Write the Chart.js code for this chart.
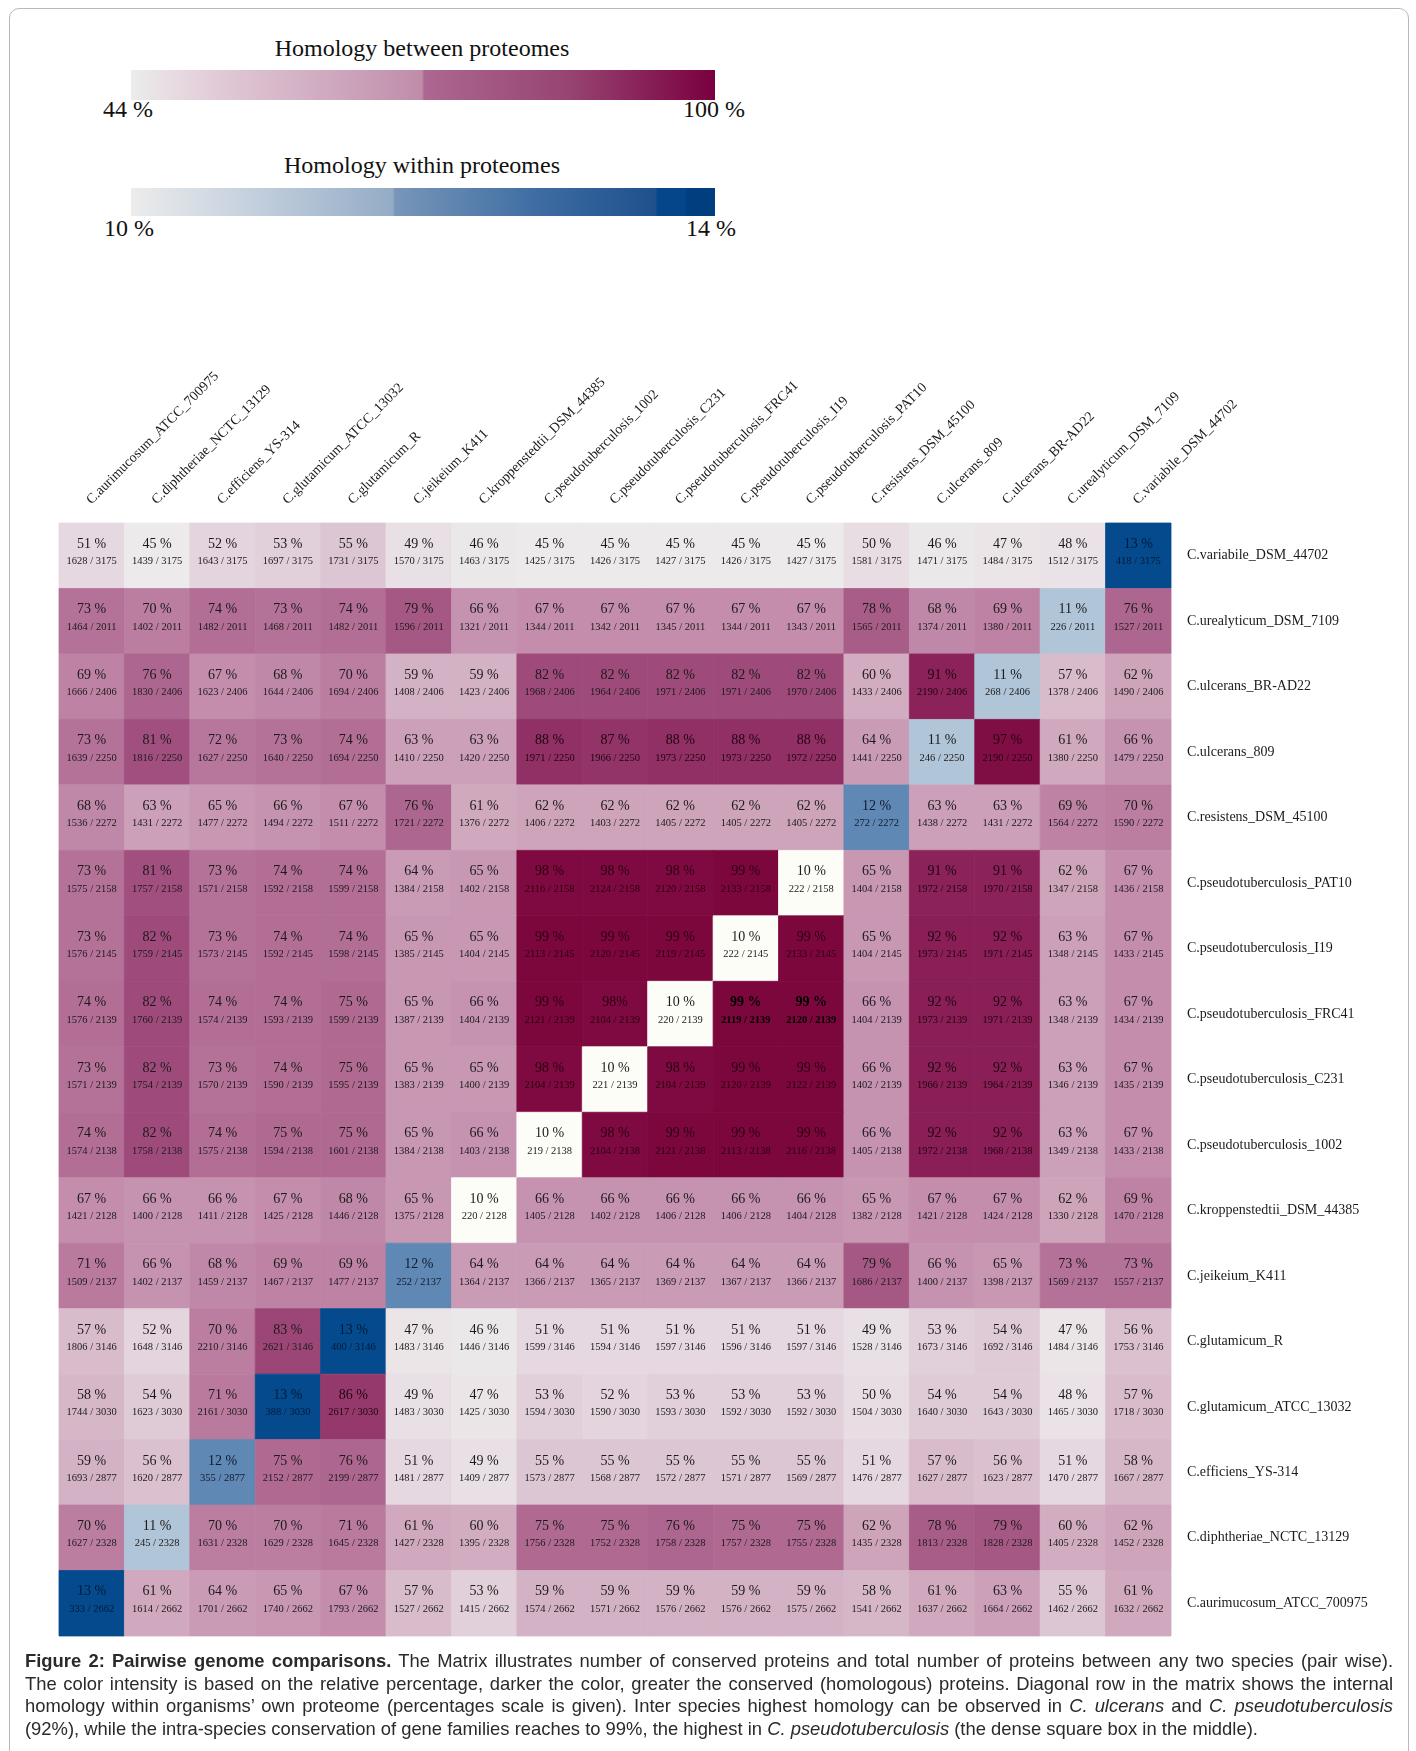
<!DOCTYPE html>
<html><head><meta charset="utf-8">
<script src="https://cdn.jsdelivr.net/npm/chart.js@4.4.1/dist/chart.umd.min.js"></script>
<style>
html,body{margin:0;padding:0;background:#fff;}
body{width:1416px;height:1751px;position:relative;overflow:hidden;font-family:"Liberation Serif","Times New Roman",serif;}
#frame{position:absolute;left:9px;top:8px;width:1400px;height:1800px;border:1px solid #b8b8b8;border-radius:10px;box-sizing:border-box;}
.ltitle{position:absolute;left:0;width:844px;text-align:center;font-size:24px;line-height:28px;color:#111;}
.lbar{position:absolute;left:131px;width:584px;}
.lval{position:absolute;width:100px;text-align:center;font-size:24px;line-height:28px;color:#111;}
#c{position:absolute;left:0;top:0;}
#cap{position:absolute;left:25px;top:1650px;width:1368px;font-family:"Liberation Sans",Arial,sans-serif;font-size:18.4px;line-height:22.6px;color:#2a2a2a;}
#cap div{white-space:nowrap;text-align:justify;text-align-last:justify;}
#cap div.last{text-align-last:left;}
</style>
</head><body>
<div id="frame"></div>
<div class="ltitle" style="top:34px">Homology between proteomes</div>
<div class="lbar" style="top:70px;height:30px;background:linear-gradient(to right,#ececec 0%,#e2ccd8 14%,#d3b0c4 30%,#c08ca9 49.8%,#ac6892 50.2%,#974472 75%,#7a0040 100%);"></div>
<div class="lval" style="left:78px;top:95px">44 %</div>
<div class="lval" style="left:664px;top:95px">100 %</div>
<div class="ltitle" style="top:151px">Homology within proteomes</div>
<div class="lbar" style="top:188px;height:28px;background:linear-gradient(to right,#ececec 0%,#c5d1de 20%,#94acc6 44.8%,#7896b9 45.2%,#3d6ca2 70%,#1e508c 89.8%,#05468a 90.2%,#05468a 94.8%,#003e80 95.2%,#003e80 100%);"></div>
<div class="lval" style="left:79px;top:214px">10 %</div>
<div class="lval" style="left:661px;top:214px">14 %</div>
<canvas id="c" width="1416" height="1661"></canvas>
<div id="cap">
<div><b>Figure 2: Pairwise genome comparisons.</b> The Matrix illustrates number of conserved proteins and total number of proteins between any two species (pair wise).</div>
<div>The color intensity is based on the relative percentage, darker the color, greater the conserved (homologous) proteins. Diagonal row in the matrix shows the internal</div>
<div>homology within organisms’ own proteome (percentages scale is given). Inter species highest homology can be observed in <i>C. ulcerans</i> and <i>C. pseudotuberculosis</i></div>
<div class="last">(92%), while the intra-species conservation of gene families reaches to 99%, the highest in <i>C. pseudotuberculosis</i> (the dense square box in the middle).</div>
</div>
<script>
// Columns (left to right)
const species = [
  "C.aurimucosum_ATCC_700975","C.diphtheriae_NCTC_13129","C.efficiens_YS-314",
  "C.glutamicum_ATCC_13032","C.glutamicum_R","C.jeikeium_K411","C.kroppenstedtii_DSM_44385",
  "C.pseudotuberculosis_1002","C.pseudotuberculosis_C231","C.pseudotuberculosis_FRC41",
  "C.pseudotuberculosis_I19","C.pseudotuberculosis_PAT10","C.resistens_DSM_45100",
  "C.ulcerans_809","C.ulcerans_BR-AD22","C.urealyticum_DSM_7109","C.variabile_DSM_44702"
];
// Rows (top to bottom)
const rowSpecies = species.slice().reverse();
// Total proteins per row (top to bottom)
const rowTotals = [3175,2011,2406,2250,2272,2158,2145,2139,2139,2138,2128,2137,3146,3030,2877,2328,2662];
// Percentages, row by row (top to bottom)
const pctRows = [
  [51,45,52,53,55,49,46,45,45,45,45,45,50,46,47,48,13],
  [73,70,74,73,74,79,66,67,67,67,67,67,78,68,69,11,76],
  [69,76,67,68,70,59,59,82,82,82,82,82,60,91,11,57,62],
  [73,81,72,73,74,63,63,88,87,88,88,88,64,11,97,61,66],
  [68,63,65,66,67,76,61,62,62,62,62,62,12,63,63,69,70],
  [73,81,73,74,74,64,65,98,98,98,99,10,65,91,91,62,67],
  [73,82,73,74,74,65,65,99,99,99,10,99,65,92,92,63,67],
  [74,82,74,74,75,65,66,99,98,10,99,99,66,92,92,63,67],
  [73,82,73,74,75,65,65,98,10,98,99,99,66,92,92,63,67],
  [74,82,74,75,75,65,66,10,98,99,99,99,66,92,92,63,67],
  [67,66,66,67,68,65,10,66,66,66,66,66,65,67,67,62,69],
  [71,66,68,69,69,12,64,64,64,64,64,64,79,66,65,73,73],
  [57,52,70,83,13,47,46,51,51,51,51,51,49,53,54,47,56],
  [58,54,71,13,86,49,47,53,52,53,53,53,50,54,54,48,57],
  [59,56,12,75,76,51,49,55,55,55,55,55,51,57,56,51,58],
  [70,11,70,70,71,61,60,75,75,76,75,75,62,78,79,60,62],
  [13,61,64,65,67,57,53,59,59,59,59,59,58,61,63,55,61]
];
// Conserved protein counts, row by row (top to bottom)
const countRows = [
  [1628,1439,1643,1697,1731,1570,1463,1425,1426,1427,1426,1427,1581,1471,1484,1512,418],
  [1464,1402,1482,1468,1482,1596,1321,1344,1342,1345,1344,1343,1565,1374,1380,226,1527],
  [1666,1830,1623,1644,1694,1408,1423,1968,1964,1971,1971,1970,1433,2190,268,1378,1490],
  [1639,1816,1627,1640,1694,1410,1420,1971,1966,1973,1973,1972,1441,246,2190,1380,1479],
  [1536,1431,1477,1494,1511,1721,1376,1406,1403,1405,1405,1405,272,1438,1431,1564,1590],
  [1575,1757,1571,1592,1599,1384,1402,2116,2124,2120,2133,222,1404,1972,1970,1347,1436],
  [1576,1759,1573,1592,1598,1385,1404,2113,2120,2119,222,2133,1404,1973,1971,1348,1433],
  [1576,1760,1574,1593,1599,1387,1404,2121,2104,220,2119,2120,1404,1973,1971,1348,1434],
  [1571,1754,1570,1590,1595,1383,1400,2104,221,2104,2120,2122,1402,1966,1964,1346,1435],
  [1574,1758,1575,1594,1601,1384,1403,219,2104,2121,2113,2116,1405,1972,1968,1349,1433],
  [1421,1400,1411,1425,1446,1375,220,1405,1402,1406,1406,1404,1382,1421,1424,1330,1470],
  [1509,1402,1459,1467,1477,252,1364,1366,1365,1369,1367,1366,1686,1400,1398,1569,1557],
  [1806,1648,2210,2621,400,1483,1446,1599,1594,1597,1596,1597,1528,1673,1692,1484,1753],
  [1744,1623,2161,388,2617,1483,1425,1594,1590,1593,1592,1592,1504,1640,1643,1465,1718],
  [1693,1620,355,2152,2199,1481,1409,1573,1568,1572,1571,1569,1476,1627,1623,1470,1667],
  [1627,245,1631,1629,1645,1427,1395,1756,1752,1758,1757,1755,1435,1813,1828,1405,1452],
  [333,1614,1701,1740,1793,1527,1415,1574,1571,1576,1576,1575,1541,1637,1664,1462,1632]
];
// Cells printed in bold in the original, [row, col]
const boldCells = [[7,10],[7,11]];
// Cells printed without the space before "%"
const noSpaceCells = [[7,8]];

const N = species.length;

const pinkStops = [
  [44,[237,237,237]],[50,[232,221,227]],[55,[221,198,211]],[60,[210,173,193]],
  [65,[200,151,178]],[70,[187,126,161]],[75,[176,106,146]],[80,[163,84,130]],
  [85,[151,61,112]],[90,[141,39,94]],[95,[131,20,75]],[100,[122,4,58]]
];
const blueMap = {10:[253,253,247],11:[176,197,216],12:[96,136,180],13:[4,74,140],14:[0,62,128]};

function pink(p){
  if(p<=pinkStops[0][0]) return pinkStops[0][1];
  for(let i=1;i<pinkStops.length;i++){
    if(p<=pinkStops[i][0]){
      const [p0,c0]=pinkStops[i-1],[p1,c1]=pinkStops[i];
      const t=(p-p0)/(p1-p0);
      return c0.map((v,k)=>Math.round(v+(c1[k]-v)*t));
    }
  }
  return pinkStops[pinkStops.length-1][1];
}
function cellColor(d){
  const c = d.diag ? (blueMap[d.p]||blueMap[10]) : pink(d.p);
  return `rgb(${c[0]},${c[1]},${c[2]})`;
}
function textColor(d){
  if(d.bold) return '#000';
  if(d.diag){ if(d.p>=13) return '#021a38'; if(d.p===12) return '#101a2c'; return '#1a1a1a'; }
  if(d.p>=95) return '#2a0010';
  if(d.p>=85) return '#1e0410';
  return '#1a1a1a';
}
const has = (list,r,c)=>list.some(([a,b])=>a===r&&b===c);

const points = [];
for(let r=0;r<N;r++){
  for(let c=0;c<N;c++){
    points.push({
      x: species[c], y: rowSpecies[r],
      p: pctRows[r][c], n: countRows[r][c], t: rowTotals[r],
      diag: r + c === N - 1,
      bold: has(boldCells,r,c), nospace: has(noSpaceCells,r,c)
    });
  }
}

function cellSide(chart){
  const a = chart.chartArea;
  if(!a) return 0;
  return (a.right - a.left) / N;
}

const cellText = {
  id:'cellText',
  afterDatasetsDraw(chart){
    const ctx = chart.ctx;
    const meta = chart.getDatasetMeta(0);
    const a = chart.chartArea;
    const h = (a.bottom - a.top) / N;
    ctx.save();
    ctx.textAlign='center';
    ctx.textBaseline='middle';
    meta.data.forEach((el,i)=>{
      const d = points[i];
      const top = el.y - h/2;
      ctx.fillStyle = textColor(d);
      ctx.font = (d.bold?'bold ':'') + '14px "Liberation Serif"';
      ctx.fillText(d.p + (d.nospace ? '%' : ' %'), el.x, top + h*0.325);
      ctx.font = (d.bold?'bold ':'') + '10.5px "Liberation Serif"';
      ctx.fillText(d.n + ' / ' + d.t, el.x, top + h*0.59);
    });
    ctx.restore();
  }
};

new Chart(document.getElementById('c'), {
  type:'scatter',
  data:{ datasets:[{
    data: points,
    pointStyle:'rect',
    radius: ctx => cellSide(ctx.chart)/Math.SQRT2,
    hoverRadius: ctx => cellSide(ctx.chart)/Math.SQRT2,
    backgroundColor: ctx => ctx.raw ? cellColor(ctx.raw) : '#fff',
    borderColor: ctx => ctx.raw ? cellColor(ctx.raw) : '#fff',
    borderWidth: 0.8,
    clip: false
  }]},
  options:{
    responsive:false, animation:false, devicePixelRatio:1, events:[],
    layout:{ padding:{ left:59, right:0, top:0, bottom:25 } },
    plugins:{ legend:{display:false}, tooltip:{enabled:false}, title:{display:false} },
    scales:{
      x:{ type:'category', labels: species, offset:true, position:'top',
          grid:{display:false, drawTicks:false}, border:{display:false},
          ticks:{ autoSkip:false, minRotation:45, maxRotation:45, padding:15, labelOffset:9,
                  color:'#1a1a1a', font:{family:'"Liberation Serif"', size:14} },
          afterFit: s => { s.height = 523; } },
      y:{ type:'category', labels: rowSpecies, offset:true, position:'right',
          grid:{display:false, drawTicks:false}, border:{display:false},
          ticks:{ autoSkip:false, padding:16, color:'#1a1a1a',
                  font:{family:'"Liberation Serif"', size:14} },
          afterFit: s => { s.width = 245; } }
    }
  },
  plugins:[cellText]
});
</script>
</body></html>
